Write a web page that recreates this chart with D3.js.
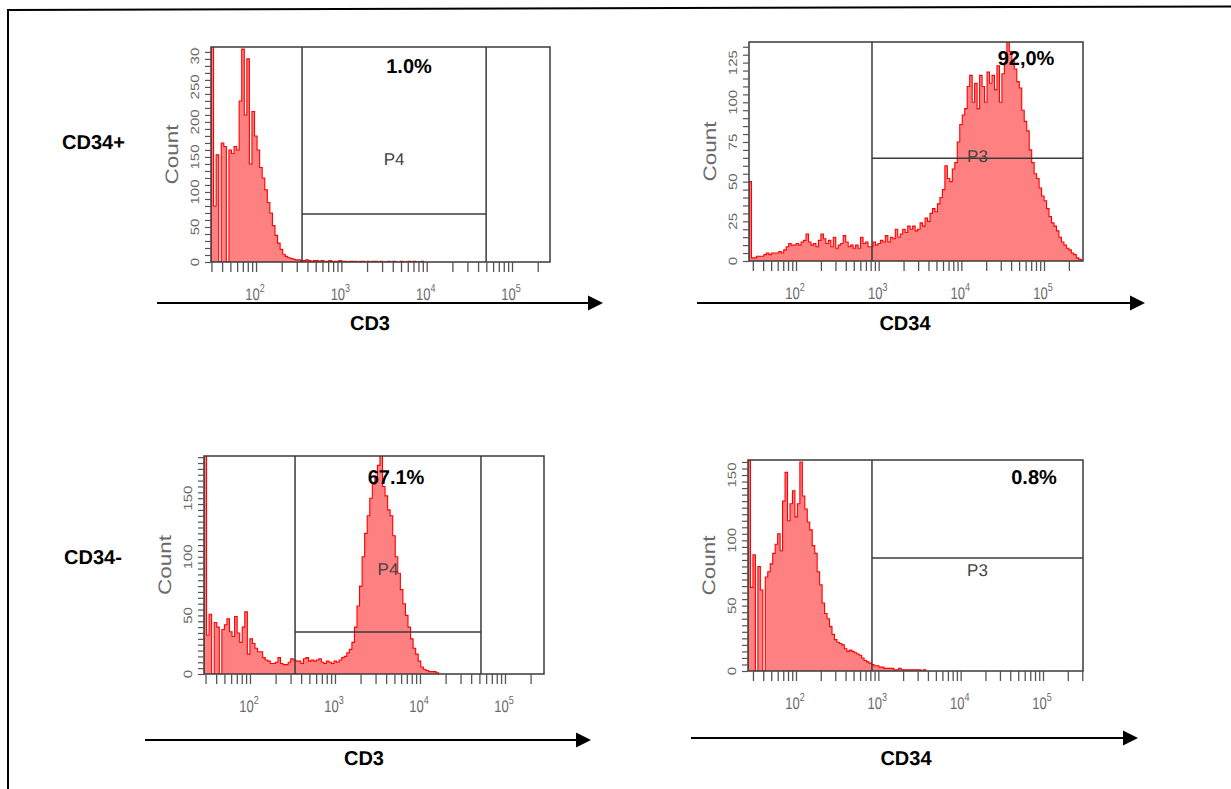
<!DOCTYPE html>
<html>
<head>
<meta charset="utf-8">
<script src="https://cdn.jsdelivr.net/npm/d3@7"></script>
<style>
  html, body { margin: 0; padding: 0; background: #fff; }
  svg { display: block; }
  text { text-rendering: geometricPrecision; }
</style>
</head>
<body>
<svg id="chart" width="1231" height="789"></svg>
<script>
// ---------------- DATA ----------------
// Histogram counts, one value per display bin (bins evenly spaced in log10 units)
const binWidthLog = 0.03;

const rowLabels = ["CD34+", "CD34-"];
const markerNames = ["CD3", "CD34", "CD3", "CD34"];
const gateNames = ["P4", "P3", "P4", "P3"];
const gatePercents = ["1.0%", "92,0%", "67.1%", "0.8%"];
const xDecades = [2, 3, 4, 5];

// CD34+ cells, CD3 staining
const cd34posCD3Counts = [320, 80, 153, 0, 170, 165, 0, 160, 155, 165, 160, 230, 304, 210, 290, 140, 215, 180, 160, 135,
  120, 103, 85, 70, 52, 38, 27, 18, 11, 8, 6, 5, 4, 3, 3, 2, 2, 3, 2, 1,
  2, 2, 1, 2, 1, 1, 2, 1, 1, 1, 2, 1, 1, 0, 1, 1, 1, 0, 1, 1,
  0, 1, 0, 1, 1, 0, 1, 0, 0, 1, 0, 1, 0, 0, 1, 0, 0, 1, 0, 1, 0, 0, 1];

// CD34+ cells, CD34 staining
const cd34posCD34Counts = [50, 2, 2, 3, 3, 3, 4, 5, 4, 5, 5, 5, 6, 5, 7,
  9, 11, 10, 10, 11, 10, 12, 13, 17, 12, 10, 11, 9, 13, 17, 14, 11, 13, 9, 15, 8, 10, 11, 16, 12, 9, 10, 8, 10, 8, 15, 11, 12, 9,
  9, 12, 10, 11, 13, 12, 16, 12, 15, 14, 20, 15, 17, 20, 18, 22, 20, 22,
  19, 20, 24, 22, 27, 25, 30, 33, 31, 36, 40, 45, 60, 52, 50, 58, 62, 75, 86, 92,
  96, 110, 117, 100, 112, 96, 117, 110, 100, 119, 112, 117, 108, 123, 100, 118, 125, 140, 132, 126,
  121, 113, 109, 95, 88, 82, 70, 62, 55, 52, 46, 41, 38, 33, 28, 24, 22, 19, 15, 12,
  10, 8, 7, 5, 4, 2, 1];

// CD34- cells, CD3 staining
const cd34negCD3Counts = [200, 33, 51, 0, 44, 40, 0, 38, 42, 47, 36, 32, 49, 35, 27, 40, 53, 17, 30, 26,
  22, 19, 19, 14, 12, 11, 9, 9, 10, 14, 9, 8, 8, 10, 13, 12, 11, 11, 9, 13,
  14, 11, 12, 11, 12, 13, 10, 9, 11, 10, 9, 11, 10, 12, 14, 15,
  18, 21, 27, 40, 58, 75, 100, 120, 135, 150, 162, 168, 178, 190, 160, 152, 140, 135, 118, 100,
  86, 72, 60, 50, 40, 30, 22, 17, 11, 6, 4, 3, 2, 2, 2, 1];

// CD34- cells, CD34 staining
const cd34negCD34Counts = [170, 64, 89, 0, 80, 62, 0, 72, 76, 82, 90, 97, 105, 92, 130, 152, 115, 128, 138, 118,
  128, 160, 134, 124, 114, 108, 96, 90, 76, 66, 52, 44, 40, 34, 28, 24, 22, 21, 20, 17,
  15, 16, 15, 14, 13, 12, 10, 8, 7, 6, 5, 4, 4, 3, 3, 2, 2, 2, 2, 1,
  1, 2, 1, 1, 1, 1, 1, 1, 1, 1, 0, 1];

// Y-axis tick labels per panel
const yLabelsP1 = [0, 50, 100, 150, 200, 250, 300];
const yLabelsP2 = [0, 25, 50, 75, 100, 125];
const yLabelsP3 = [0, 50, 100, 150];
const yLabelsP4 = [0, 50, 100, 150];

// Axis maxima / gate settings (data units)
const yMaxes = [307, 138, 186, 161.5];
const yMinorSteps = [10, 5, 5, 5];
const xLogDomains = [[1.472, 5.445], [1.431, 5.472], [1.459, 5.459], [1.417, 5.486]];
const gateLow = [346, 830, 339, 837];
const gateHigh = [49700, null, 52200, null];
const gateLevel = [68.6, 64.8, 35.8, 86.5];

// ---------------- LAYOUT ----------------
const layout = [
  { box: { l: 211, r: 550, t: 47, b: 262 }, pct: [409, 73], name: [370, 330], arrow: { x1: 157, x2: 603, y: 303 } },
  { box: { l: 749, r: 1083, t: 42, b: 261 }, pct: [1026, 65], name: [905, 330], arrow: { x1: 697, x2: 1145, y: 303 } },
  { box: { l: 204, r: 544, t: 456, b: 674 }, pct: [396, 484], name: [364, 765], arrow: { x1: 145, x2: 591, y: 740 } },
  { box: { l: 748, r: 1083, t: 460, b: 671 }, pct: [1034, 484], name: [906, 765], arrow: { x1: 691, x2: 1138, y: 738 } }
];
const countsList = [cd34posCD3Counts, cd34posCD34Counts, cd34negCD3Counts, cd34negCD34Counts];
const yLabelsList = [yLabelsP1, yLabelsP2, yLabelsP3, yLabelsP4];

const FONT = "'Liberation Sans', Arial, Helvetica, sans-serif";
const GRAY = "#6a6a6a";
const DARK = "#3a3a3a";
const BOLD_SIZE = 20;

const svg = d3.select("#chart");
const defs = svg.append("defs");

// outer frame (slightly skewed like the scanned figure)
svg.append("line").attr("x1", 7).attr("y1", 10).attr("x2", 1231).attr("y2", 6.5)
  .attr("stroke", "#000").attr("stroke-width", 2);
svg.append("line").attr("x1", 8).attr("y1", 9).attr("x2", 8).attr("y2", 789)
  .attr("stroke", "#000").attr("stroke-width", 2);

// row labels
svg.append("text").attr("x", 62).attr("y", 149).text(rowLabels[0])
  .attr("font-family", FONT).attr("font-weight", "bold").attr("font-size", BOLD_SIZE).attr("fill", "#000");
svg.append("text").attr("x", 64).attr("y", 564).text(rowLabels[1])
  .attr("font-family", FONT).attr("font-weight", "bold").attr("font-size", BOLD_SIZE).attr("fill", "#000");

layout.forEach((L, k) => {
  const box = L.box;
  const counts = countsList[k];
  const binStart = xLogDomains[k][0];
  const x = d3.scaleLog().domain([10 ** xLogDomains[k][0], 10 ** xLogDomains[k][1]]).range([box.l, box.r]);
  const y = d3.scaleLinear().domain([0, yMaxes[k]]).range([box.b, box.t]);
  const g = svg.append("g");

  const cid = "clip" + k;
  defs.append("clipPath").attr("id", cid).append("rect")
    .attr("x", box.l).attr("y", box.t).attr("width", box.r - box.l).attr("height", box.b - box.t);
  const lid = "lclip" + k;
  defs.append("clipPath").attr("id", lid).append("rect")
    .attr("x", box.l - 40).attr("y", box.t).attr("width", 40).attr("height", box.b - box.t + 20);

  // histogram points
  const n = counts.length;
  const binEdge = i => 10 ** (binStart + i * binWidthLog);
  const pts = [[binEdge(0), 0]];
  counts.forEach((c, i) => pts.push([binEdge(i), c]));
  pts.push([binEdge(n), counts[n - 1]]);
  pts.push([binEdge(n), 0]);

  const area = d3.area().x(d => x(d[0])).y0(y(0)).y1(d => y(d[1])).curve(d3.curveStepAfter);
  const line = d3.line().x(d => x(d[0])).y(d => y(d[1])).curve(d3.curveStepAfter);
  const hg = g.append("g").attr("clip-path", `url(#${cid})`);
  hg.append("path").attr("d", area(pts)).attr("fill", "#ff8080");
  hg.append("path").attr("d", line(pts)).attr("fill", "none").attr("stroke", "#ff0000").attr("stroke-width", 1.1);

  // gates
  const gx1 = x(gateLow[k]);
  const gx2 = gateHigh[k] === null ? box.r : x(gateHigh[k]);
  const gy = y(gateLevel[k]);
  g.append("line").attr("x1", gx1).attr("x2", gx1).attr("y1", box.t).attr("y2", box.b)
    .attr("stroke", DARK).attr("stroke-width", 1.5);
  if (gateHigh[k] !== null) {
    g.append("line").attr("x1", gx2).attr("x2", gx2).attr("y1", box.t).attr("y2", box.b)
      .attr("stroke", DARK).attr("stroke-width", 1.5);
  }
  g.append("line").attr("x1", gx1).attr("x2", gx2).attr("y1", gy).attr("y2", gy)
    .attr("stroke", DARK).attr("stroke-width", 1.5);
  g.append("text").attr("x", (gx1 + gx2) / 2).attr("y", box.t + 0.52 * (box.b - box.t) + 6)
    .attr("text-anchor", "middle").attr("font-family", FONT).attr("font-size", 17)
    .attr("fill", "#444").text(gateNames[k]);

  // box
  g.append("rect").attr("x", box.l).attr("y", box.t).attr("width", box.r - box.l).attr("height", box.b - box.t)
    .attr("fill", "none").attr("stroke", DARK).attr("stroke-width", 1.5);

  // x axis ticks (log minor ticks)
  const xAxis = d3.axisBottom(x).tickValues(x.ticks()).tickSize(10).tickFormat("");
  const xa = g.append("g").attr("transform", `translate(0,${box.b})`).call(xAxis);
  xa.select(".domain").remove();
  xa.selectAll(".tick line").attr("stroke", "#555").attr("stroke-width", 1.3);

  // x decade labels
  xDecades.forEach(d => {
    const px = x(10 ** d);
    const t = g.append("text")
      .attr("transform", `translate(${px - 1},${box.b + 38}) scale(1,1.3)`)
      .attr("text-anchor", "middle").attr("font-family", FONT).attr("font-size", 13).attr("fill", GRAY);
    t.append("tspan").text("10");
    t.append("tspan").attr("dy", -6).attr("font-size", 9).text(String(d));
  });

  // y axis ticks
  const yTickVals = d3.range(0, yMaxes[k], yMinorSteps[k]);
  const yAxis = d3.axisLeft(y).tickValues(yTickVals).tickSize(6).tickFormat("");
  const ya = g.append("g").attr("transform", `translate(${box.l},0)`).call(yAxis);
  ya.select(".domain").remove();
  ya.selectAll(".tick line").attr("stroke", "#555").attr("stroke-width", 1.2);

  // y labels (rotated)
  const yl = g.append("g").attr("clip-path", `url(#${lid})`);
  yLabelsList[k].forEach(v => {
    yl.append("text")
      .attr("transform", `translate(${box.l - 12},${y(v)}) scale(1,1.25) rotate(-90)`)
      .attr("text-anchor", "middle").attr("font-family", FONT).attr("font-size", 12).attr("fill", GRAY)
      .text(v);
  });

  // Count label
  g.append("text")
    .attr("transform", `translate(${box.l - 33},${(box.t + box.b) / 2}) scale(1,1.25) rotate(-90)`)
    .attr("text-anchor", "middle").attr("font-family", FONT).attr("font-size", 18).attr("fill", GRAY)
    .text("Count");

  // percentage
  g.append("text").attr("x", L.pct[0]).attr("y", L.pct[1]).attr("text-anchor", "middle")
    .attr("font-family", FONT).attr("font-weight", "bold").attr("font-size", BOLD_SIZE).attr("fill", "#000")
    .text(gatePercents[k]);

  // arrow
  const a = L.arrow;
  g.append("line").attr("x1", a.x1).attr("x2", a.x2 - 12).attr("y1", a.y).attr("y2", a.y)
    .attr("stroke", "#000").attr("stroke-width", 2);
  g.append("path")
    .attr("d", `M${a.x2},${a.y} L${a.x2 - 15},${a.y - 7.5} L${a.x2 - 15},${a.y + 7.5} Z`)
    .attr("fill", "#000");

  // marker name
  g.append("text").attr("x", L.name[0]).attr("y", L.name[1]).attr("text-anchor", "middle")
    .attr("font-family", FONT).attr("font-weight", "bold").attr("font-size", BOLD_SIZE).attr("fill", "#000")
    .text(markerNames[k]);
});
</script>
</body>
</html>
